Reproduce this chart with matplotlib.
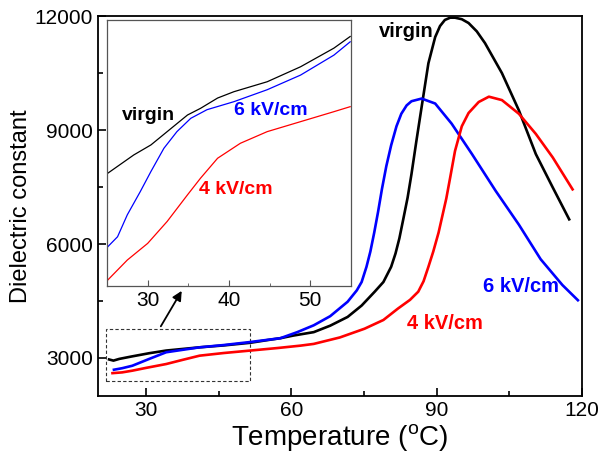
import matplotlib
matplotlib.use('Agg')
import matplotlib.pyplot as plt
from matplotlib.patches import Rectangle

plt.rcParams['font.family'] = ['Liberation Sans', 'DejaVu Sans']
plt.rcParams['mathtext.fontset'] = 'custom'
plt.rcParams['mathtext.rm'] = 'Liberation Sans'

# main curves: temperature (C) vs dielectric constant
t_virgin = [22.3, 23.2, 24.4, 27, 30.6, 34.1, 41, 46, 51.5, 55, 57.7, 60.4, 64.6, 68, 71.6,
            74.5, 77.2, 79, 80.6, 81.5, 82.3, 83.1, 84, 84.8, 85.8, 86.9, 88.3, 89.7, 90.7,
            91.7, 92.8, 93.8, 95.2, 96.6, 98.3, 100, 103.5, 107, 110.5, 114, 117.4]
e_virgin = [2960, 2930, 2975, 3040, 3125, 3195, 3280, 3330, 3400, 3470, 3520, 3590, 3680, 3850, 4080,
            4380, 4745, 5000, 5400, 5750, 6150, 6650, 7220, 7840, 8700, 9610, 10760, 11450, 11740,
            11900, 11960, 11960, 11920, 11820, 11600, 11290, 10500, 9520, 8370, 7490, 6650]

t_6kv = [23.3, 25, 27.1, 30.6, 34.1, 41, 46, 51.5, 57.7, 61.2, 64.6, 68, 71.6, 73.5, 74.5,
         75.5, 76.3, 77.1, 77.9, 78.7, 79.6, 80.6, 81.7, 82.7, 83.8, 84.8, 86.9, 89.7, 93.1,
         97.3, 102.2, 107, 111.5, 116, 119.2]
e_6kv = [2690, 2730, 2795, 2975, 3150, 3280, 3340, 3420, 3520, 3680, 3860, 4100, 4480, 4780, 5000,
         5400, 5800, 6300, 6850, 7450, 8050, 8600, 9100, 9430, 9650, 9760, 9830, 9700, 9170,
         8370, 7400, 6510, 5600, 4920, 4520]

t_4kv = [23, 25, 27.1, 30, 34.1, 37.5, 41, 46, 51.5, 57, 61.9, 64.6, 70, 75.1, 79, 82, 84.5,
         86.2, 87.3, 88.3, 89.3, 90.4, 91.2, 92.0, 92.8, 93.8, 95.2, 96.6, 98.7, 100.8, 103.5,
         107, 110.5, 114, 118.1]
e_4kv = [2600, 2620, 2665, 2740, 2840, 2950, 3060, 3130, 3195, 3260, 3325, 3370, 3540, 3770, 4000, 4300, 4530,
         4745, 5020, 5400, 5800, 6300, 6750, 7200, 7750, 8450, 9100, 9450, 9740, 9880, 9790,
         9430, 8900, 8280, 7440]

# inset curves (25-55 C)
ti_virgin = [25.1, 28.3, 30.4, 32.4, 34.9, 36.5, 38.6, 40.6, 44.7, 48.8, 52.9, 54.9]
ei_virgin = [2939, 2994, 3024, 3064, 3114, 3134, 3165, 3184, 3214, 3259, 3315, 3350]
ti_6kv = [25.1, 26.3, 27.5, 29.1, 30.4, 32.0, 33.6, 35.3, 37.3, 40.6, 44.7, 48.8, 52.9, 54.9]
ei_6kv = [2718, 2748, 2814, 2884, 2944, 3014, 3064, 3104, 3130, 3154, 3190, 3234, 3294, 3334]
ti_4kv = [25.1, 27.5, 30.0, 32.4, 34.9, 36.5, 38.6, 41.4, 44.7, 48.8, 52.9, 54.9]
ei_4kv = [2618, 2678, 2728, 2794, 2874, 2924, 2984, 3029, 3064, 3094, 3124, 3139]

fig = plt.figure(figsize=(6.01, 4.62), dpi=100)
ax = fig.add_axes([0.163, 0.143, 0.805, 0.822])

ax.plot(t_virgin, e_virgin, color='black', lw=1.9)
ax.plot(t_6kv, e_6kv, color='blue', lw=1.9)
ax.plot(t_4kv, e_4kv, color='red', lw=1.9)

ax.set_xlim(20, 120)
ax.set_ylim(2000, 12000)
ax.set_xticks([30, 60, 90, 120])
ax.set_xticks([45, 75, 105], minor=True)
ax.set_yticks([3000, 6000, 9000, 12000])
ax.set_yticks([4500, 7500, 10500], minor=True)
ax.tick_params(which='both', direction='in', top=False, right=False, labelsize=15, width=1.2)
ax.tick_params(which='major', length=6)
ax.tick_params(which='minor', length=3.5)
for s in ax.spines.values():
    s.set_linewidth(1.3)
ax.set_xlabel(r'Temperature ($^{\mathrm{o}}$C)', fontsize=20, labelpad=2)
ax.set_ylabel('Dielectric constant', fontsize=17, labelpad=2)

ax.text(83.7, 11600, 'virgin', color='black', fontsize=14.5, fontweight='bold', ha='center', va='center')
ax.text(107.5, 4880, '6 kV/cm', color='blue', fontsize=14.5, fontweight='bold', ha='center', va='center')
ax.text(91.7, 3900, '4 kV/cm', color='red', fontsize=14.5, fontweight='bold', ha='center', va='center')

# dashed box marking the zoomed region and arrow to inset
ax.add_patch(Rectangle((21.7, 2390), 29.8, 1380, fill=False, ls=(0, (3, 2)), lw=0.8, ec='#333333'))
ax.annotate('', xy=(37.6, 4830), xytext=(32.7, 3770),
            arrowprops=dict(arrowstyle='-|>', color='black', lw=1.3, mutation_scale=14))

# inset
axi = fig.add_axes([0.178, 0.381, 0.406, 0.576])
axi.plot(ti_virgin, ei_virgin, color='black', lw=0.9)
axi.plot(ti_6kv, ei_6kv, color='blue', lw=0.9)
axi.plot(ti_4kv, ei_4kv, color='red', lw=0.9)
axi.set_xlim(25, 55)
axi.set_ylim(2600, 3400)
axi.set_xticks([30, 40, 50])
axi.set_xticks([35, 45, 55], minor=True)
axi.set_yticks([])
axi.tick_params(which='both', direction='in', top=False, right=False, labelsize=15, color='#555555')
axi.tick_params(which='major', length=4)
axi.tick_params(which='minor', length=2.5)
for s in axi.spines.values():
    s.set_linewidth(0.9)
    s.set_color('#555555')

axi.text(30.1, 3114, 'virgin', color='black', fontsize=14, fontweight='bold', ha='center', va='center')
axi.text(45.2, 3129, '6 kV/cm', color='blue', fontsize=14, fontweight='bold', ha='center', va='center')
axi.text(40.9, 2889, '4 kV/cm', color='red', fontsize=14, fontweight='bold', ha='center', va='center')

fig.savefig('out.png', dpi=100)
